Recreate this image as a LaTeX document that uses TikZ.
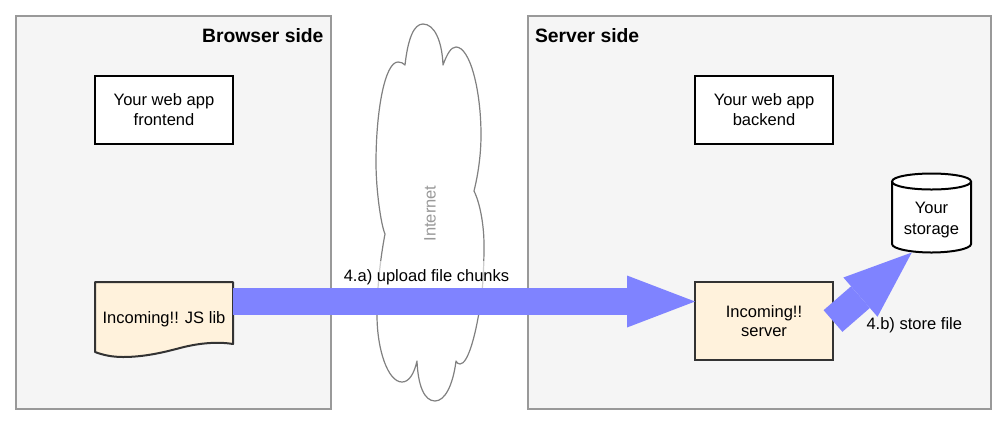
\documentclass[tikz,border=0pt]{standalone}
\usepackage{fontspec}
\setmainfont{Liberation Sans}
\usetikzlibrary{arrows.meta}
\definecolor{panelfill}{HTML}{F5F5F5}
\definecolor{panelline}{HTML}{999999}
\definecolor{noteyellow}{HTML}{FFF2DC}
\definecolor{boxline}{HTML}{333333}
\definecolor{flowblue}{HTML}{7F83FF}
\definecolor{cloudline}{HTML}{808080}
\definecolor{cloudtext}{HTML}{999999}
\tikzset{
  every node/.style={outer sep=0pt},
  panel/.style={draw=panelline,fill=panelfill,line width=1.5pt,minimum width=#1,minimum height=294.75pt,inner sep=0pt},
  whitebox/.style={draw=black,fill=white,line width=1.5pt,minimum width=103.5pt,minimum height=51pt,inner sep=0pt,align=center,font=\fontsize{12.4}{14.7}\selectfont},
  yellowbox/.style={whitebox,draw=boxline,fill=noteyellow},
  plainlabel/.style={inner sep=0pt,align=center,font=\fontsize{12.4}{15.4}\selectfont},
  paneltitle/.style={inner sep=0pt,font=\bfseries\fontsize{14.5}{17}\selectfont},
  flowarrow/.style={draw=flowblue,line width=20.25pt,-{Triangle[length=51pt,width=39pt,line width=0pt,fill=flowblue]}}
}
\begin{document}
\begin{tikzpicture}[x=0.75pt,y=-0.75pt]
\useasboundingbox (0,0) rectangle (1006,426);
% panels
\node[panel=236.25pt] (browser) at (173.5,212.5) {};
\node[panel=347.25pt] (serverside) at (759.5,212.5) {};
\node[paneltitle,anchor=base east] (browsertitle) at (323.5,42.5) {Browser side};
\node[paneltitle,anchor=base west] (servertitle) at (535,42.5) {Server side};
% cloud
\draw[draw=cloudline,fill=white,line width=0.9pt,line join=round]
  (405,65) .. controls (408,38) and (414,24) .. (423,24)
  .. controls (434,24) and (442,40) .. (443,65)
  .. controls (447,54) and (451,47) .. (456,47)
  .. controls (470,47) and (481,90) .. (481,135)
  .. controls (481,155) and (478,175) .. (474,191)
  .. controls (480,203) and (484,225) .. (484,245)
  .. controls (484,275) and (482,300) .. (478,318)
  .. controls (475,335) and (468,364) .. (460,364)
  .. controls (458,364) and (457,363) .. (456,361)
  .. controls (453,385) and (445,401) .. (435,401)
  .. controls (424,401) and (418,385) .. (417,361)
  .. controls (414,374) and (409,382) .. (402,382)
  .. controls (388,382) and (377,350) .. (377,315)
  .. controls (377,290) and (380,260) .. (385,234)
  .. controls (381,225) and (376,190) .. (376,163)
  .. controls (376,110) and (385,62) .. (398,62)
  .. controls (401,62) and (403,63) .. (405,65) -- cycle;
\node[plainlabel,rotate=90,text=cloudtext] (internet) at (430,213.5) {Internet};
% boxes
\node[whitebox] (frontend) at (164,109.6) {Your web app\\frontend};
\node[whitebox] (backend) at (764,109.6) {Your web app\\backend};
\node[yellowbox,minimum height=58.5pt] (incserver) at (764,321) {Incoming!!\\server};
% document shape
\draw[draw=boxline,fill=noteyellow,line width=1.5pt,line join=round]
  (95,282) -- (233,282) -- (233,344)
  .. controls (215,341) and (195,344) .. (180,348)
  .. controls (165,352) and (145,357) .. (123,357)
  .. controls (112,357) and (103,355) .. (95,352) -- cycle;
\node[plainlabel,minimum width=103.5pt,minimum height=55.5pt] (jslib) at (164,319) {Incoming!! JS lib};
% cylinder
\draw[draw=black,fill=white,line width=1.5pt]
  (892,181.5) -- (892,244) .. controls (892,249) and (912,252.5) .. (931.5,252.5)
  .. controls (951,252.5) and (971,249) .. (971,244) -- (971,181.5)
  .. controls (971,176.5) and (951,173.5) .. (931.5,173.5)
  .. controls (912,173.5) and (892,176.5) .. (892,181.5)
  .. controls (892,186.5) and (912,189.5) .. (931.5,189.5)
  .. controls (951,189.5) and (971,186.5) .. (971,181.5);
\node[plainlabel,minimum width=59.25pt,minimum height=59.25pt,anchor=south] (storage) at (931.5,252.5) {};
\node[plainlabel] (storagetext) at (931.5,220) {Your\\storage};
% arrows
\node[plainlabel,fill=white,fill opacity=0.6,text opacity=1,minimum height=24pt,minimum width=126pt] (uploadlabel) at (426.5,277) {4.a) upload file chunks};
\draw[flowarrow] ([yshift=-14.625pt]jslib.north east) -- ([yshift=-14.625pt]incserver.north west);
\draw[flowarrow,line width=21.5pt] (incserver.east) -- ([xshift=-14.8pt]storage.south);
\node[plainlabel,anchor=base west] (storelabel) at (866.5,329) {4.b) store file};
\end{tikzpicture}
\end{document}
